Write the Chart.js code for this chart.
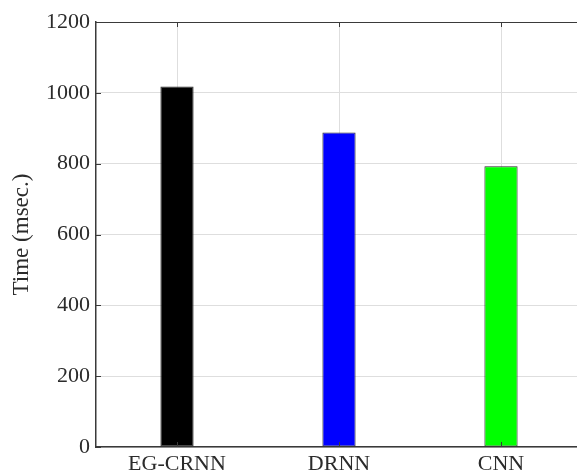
<!DOCTYPE html>
<html>
<head>
<meta charset="utf-8">
<script src="https://cdn.jsdelivr.net/npm/chart.js@4.4.1/dist/chart.umd.min.js"></script>
<style>
   html, body { margin: 0; padding: 0; background: #fff; overflow: hidden; }
   #wrap { position: relative; width: 582px; height: 475px; }
</style>
</head>
<body>
<div id="wrap"><canvas id="timeChart"></canvas></div>
<script>
// chart data
const categories = ['EG-CRNN', 'DRNN', 'CNN'];
const timeValues = [1018, 888, 793];
const yTicks = [0, 200, 400, 600, 800, 1000, 1200];
const barColors = ['#000000', '#0000ff', '#00ff00'];

const axisColor = '#3a3a3a';
const gridColor = '#dedede';
const textColor = '#2b2b2b';
const serif = "'Liberation Serif', 'Times New Roman', serif";

// small inward tick marks like the original plot
const innerTicks = {
   id: 'innerTicks',
   afterDraw(chart) {
      const { ctx, chartArea, scales } = chart;
      ctx.save();
      ctx.strokeStyle = axisColor;
      ctx.lineWidth = 1;
      ctx.beginPath();
      yTicks.forEach(v => {
         const y = Math.round(scales.y.getPixelForValue(v)) + 0.5;
         ctx.moveTo(chartArea.left, y);
         ctx.lineTo(chartArea.left + 5, y);
      });
      categories.forEach((c, i) => {
         const x = Math.round(scales.x.getPixelForValue(i)) + 0.5;
         ctx.moveTo(x, chartArea.top);
         ctx.lineTo(x, chartArea.top + 5);
         ctx.moveTo(x, chartArea.bottom);
         ctx.lineTo(x, chartArea.bottom - 5);
      });
      ctx.stroke();
      ctx.restore();
   }
};

const ctx = document.getElementById('timeChart').getContext('2d');
new Chart(ctx, {
   type: 'bar',
   data: {
      labels: categories,
      datasets: [{
         label: 'Time',
         data: timeValues,
         backgroundColor: barColors,
         borderColor: '#2a2a2a',
         borderWidth: 1,
         borderSkipped: false,
         barPercentage: 0.205,
         categoryPercentage: 1
      }]
   },
   options: {
      responsive: true,
      maintainAspectRatio: false,
      animation: false,
      layout: { padding: { top: 22, right: 0, left: 0, bottom: 0 } },
      plugins: {
         legend: { display: false },
         tooltip: { enabled: false }
      },
      scales: {
         x: {
            grid: {
               offset: false,
               color: gridColor,
               drawTicks: false
            },
            border: { color: axisColor, width: 1.5 },
            ticks: {
               color: textColor,
               padding: 4,
               font: { family: serif, size: 22 }
            },
            afterFit(scale) { scale.height = 28; }
         },
         y: {
            min: 0,
            max: 1200,
            afterBuildTicks(scale) {
               scale.ticks = yTicks.map(v => ({ value: v }));
            },
            grid: {
               color: ctx => ctx.tick && ctx.tick.value === 1200 ? axisColor : gridColor,
               drawTicks: false
            },
            border: { color: axisColor, width: 1.5 },
            ticks: {
               color: textColor,
               padding: 6,
               font: { family: serif, size: 22 },
               callback: v => String(v)
            },
            title: {
               display: true,
               text: 'Time (msec.)',
               color: textColor,
               padding: { top: 8, bottom: 0 },
               font: { family: serif, size: 23 }
            },
            afterFit(scale) { scale.width = 96; }
         }
      }
   },
   plugins: [innerTicks]
});
</script>
</body>
</html>
